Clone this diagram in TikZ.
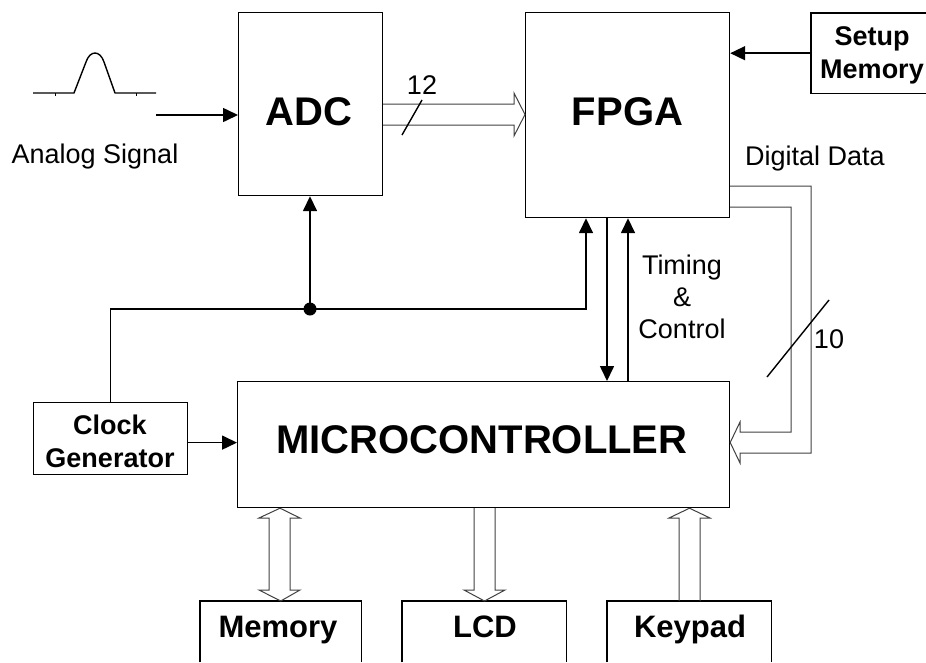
\documentclass[tikz,border=0pt]{standalone}
\usepackage{fontspec}
\setmainfont{Liberation Sans}
\usetikzlibrary{arrows.meta,calc}
\begin{document}
\begin{tikzpicture}[x=1pt,y=-1pt,
  box/.style={draw, line width=1.2pt, inner sep=0pt, anchor=north west},
  openbox/.style={draw=none, inner sep=0pt, anchor=north west},
  sig/.style={line width=1.6pt},
  arr/.style={sig, -{Triangle[length=15pt,width=14pt]}},
  bus/.style={line width=1pt, draw=black!75},
  big/.style={font=\fontsize{40}{48}\selectfont\bfseries},
  mid/.style={font=\fontsize{31}{36}\selectfont\bfseries},
  small/.style={font=\fontsize{27}{33}\selectfont\bfseries, align=center},
  lbl/.style={font=\fontsize{27}{32}\selectfont, align=center}]
\useasboundingbox (0,0) rectangle (926,662);

% boxes
\node[box, minimum width=144pt, minimum height=183pt] (adc) at (238,12) {};
\node[box, minimum width=204pt, minimum height=205pt] (fpga) at (525,12) {};
\node[openbox, minimum width=115pt, minimum height=80pt] (setup) at (811,13) {};
\draw[line width=1.2pt] (setup.north east) -- (setup.north west) -- (setup.south west) -- (setup.south east);
\node[box, minimum width=492pt, minimum height=126pt] (mcu) at (237,381) {};
\node[box, minimum width=154pt, minimum height=72pt] (clk) at (33,402) {};
\node[openbox, minimum width=161pt, minimum height=61pt] (mem) at (200,601) {};
\node[openbox, minimum width=164pt, minimum height=61pt] (lcd) at (402,601) {};
\node[openbox, minimum width=164pt, minimum height=61pt] (key) at (607,601) {};
\foreach \b in {mem,lcd,key}
  \draw[line width=1.2pt] (\b.south west) -- (\b.north west) -- (\b.north east) -- (\b.south east);

% texts
\node[big] (adct) at (309,111.5) {ADC};
\node[big] (fpgat) at (627.5,111.5) {FPGA};
\node[big] (mcut) at (482,440) {MICROCONTROLLER};
\node[small, anchor=base] (setupt) at (872,78) {Setup\\Memory};
\node[small, anchor=base] (clkt) at (110,467) {Clock\\Generator};
\node[mid, anchor=base] (memt) at (278,637) {Memory};
\node[mid, anchor=base] (lcdt) at (485,637) {LCD};
\node[mid, anchor=base] (keyt) at (690,637) {Keypad};
\node[lbl, anchor=base] (ana) at (95,163) {Analog Signal};
\node[lbl, anchor=base] (dig) at (815,165) {Digital Data};
\node[lbl, anchor=base] (tc) at (682,338) {Timing\\\&\\Control};
\node[lbl] (n12) at (422,85) {12};
\node[lbl] (n10) at (829,339) {10};

% analog pulse
\draw[line width=1.4pt, line join=round]
  (33,93) -- (74,93) -- (86,62) .. controls (90,50) and (100,50) .. (104,62) -- (115,93) -- (156,93);
\draw[line width=0.8pt] (55,93) -- (55,96) (136,93) -- (136,96);
\coordinate (ain) at (156,115);
\draw[arr] (ain) -- (ain -| adc.west);

% setup memory -> FPGA
\draw[arr] (setup.west) -- (setup.west -| fpga.east);

% ADC -> FPGA bus
\coordinate (ya) at (0,104); \coordinate (yb) at (0,125); \coordinate (yt) at (0,114.5);
\draw[bus, line join=miter] (adc.east |- ya) -- (514,104) -- (514,93) -- (fpga.west |- yt) -- (514,136) -- (514,125) -- (adc.east |- yb);
\draw[line width=1.4pt] (402,135) -- (422,100);

% clock distribution
\coordinate (j) at (310,309);
\coordinate (fclk) at ([xshift=61pt]fpga.south west);
\draw[arr] (clk.north) |- (j) -| (fclk);
\draw[arr] (j) -- (j |- adc.south);
\fill (j) circle (6.5);
\draw[arr] ([yshift=-4pt]clk.east) -- ([yshift=-4pt]clk.east -| mcu.west);

% timing & control
\coordinate (fdn) at ([xshift=82pt]fpga.south west);
\coordinate (fup) at ([xshift=103pt]fpga.south west);
\draw[arr] (fdn) -- (fdn |- mcu.north);
\draw[arr] (fup |- mcu.north) -- (fup);

% digital data bus FPGA -> MCU
\coordinate (d1) at (0,186); \coordinate (d2) at (0,207); \coordinate (dt) at (0,442.5);
\draw[bus, line join=miter] (fpga.east |- d1) -- (811,186) -- (811,453) -- (740,453) -- (740,463)
  -- (mcu.east |- dt) -- (740,422) -- (740,432) -- (791,432) -- (791,207) -- (fpga.east |- d2);
\draw[line width=1.4pt] (767,377) -- (829,300);

% bottom buses
\draw[bus, line join=miter] (269,518) -- (259,518) -- (mcu.south -| 280,0) -- (300,518) -- (290,518)
  -- (290,590) -- (300,590) -- (mem.north) -- (259,590) -- (269,590) -- cycle;
\draw[bus, line join=miter] (mcu.south -| 474,0) -- (474,590) -- (464,590) -- (lcd.north -| 484.5,0)
  -- (505,590) -- (495,590) -- (mcu.south -| 495,0);
\draw[bus, line join=miter] (key.north -| 679,0) -- (679,518) -- (669,518) -- (mcu.south -| 689.5,0)
  -- (710,518) -- (700,518) -- (key.north -| 700,0);
\end{tikzpicture}
\end{document}
